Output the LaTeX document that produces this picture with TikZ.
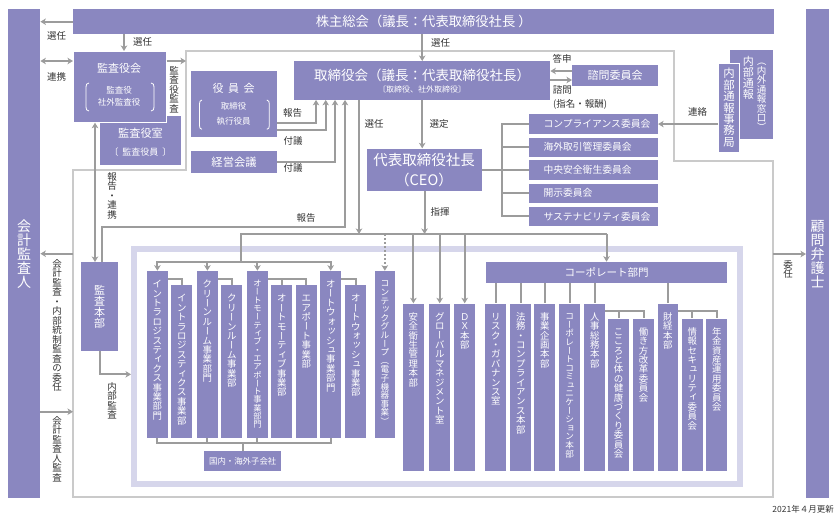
\documentclass[tikz,border=0pt]{standalone}
\usepackage{fontspec}
\usepackage{graphicx}
\setmainfont{Noto Sans CJK JP}
\usetikzlibrary{arrows.meta,calc}
\definecolor{boxc}{HTML}{8A87C0}
\definecolor{linec}{HTML}{9C9C9C}
\definecolor{framec}{HTML}{D6D6EB}
\definecolor{outlc}{HTML}{CACACA}
\definecolor{txtc}{HTML}{333333}
% vertical Japanese text: one character per em cell
\newcommand{\vput}[1]{\hbox to 1em{\hss\vrule height .88em depth .12em width 0pt\relax #1\hss}}
\newcommand{\vrot}[1]{\hbox to 1em{\hss\rotatebox[origin=c]{-90}{\vrule height .88em depth .12em width 0pt\relax #1}\hss}}
\newcommand{\vsm}[1]{\hbox to 1em{\vrule height .88em depth .12em width 0pt\relax\kern.13em\raisebox{.12em}{#1}\hss}}
\makeatletter
\newcommand{\vchr}[1]{\in@{#1}{ー（）}\ifin@\vrot{#1}\else\in@{#1}{ィッュォョャェァっゃゅょ}\ifin@\vsm{#1}\else\vput{#1}\fi\fi}
\makeatother
\def\vstackA#1{\ifx\relax#1\else\vchr{#1}\expandafter\vstackA\fi}
\newcommand{\vstack}[1]{\vbox{\offinterlineskip\vstackA#1\relax}}
\tikzset{
  pbox/.style={fill=boxc, inner sep=0pt, text=white, anchor=north west},
  lbl/.style={inner sep=0pt, text=txtc, font=\fontsize{9.5}{10}\selectfont},
  wtxt/.style={inner sep=0pt, text=white},
  vtxt/.style={inner sep=0pt, anchor=north, text=white, font=\fontsize{9.4}{10}\selectfont},
  vlbl/.style={inner sep=0pt, anchor=north, text=txtc, font=\fontsize{9.5}{10}\selectfont},
  ln/.style={draw=linec, line width=2pt},
  arr/.style={ln, -{Stealth[length=5.5pt,width=6.5pt,inset=1.5pt]}},
  darr/.style={ln, {Stealth[length=5.5pt,width=6.5pt,inset=1.5pt]}-{Stealth[length=5.5pt,width=6.5pt,inset=1.5pt]}},
  brk/.style={draw=white, line width=0.8pt},
}
\newcommand{\bx}[7][]{\node[pbox,minimum width={(#5-#3)*1pt},minimum height={(#6-#4)*1pt},#1] (#2) at (#3,#4) {#7};}
\newcommand{\vb}[3][]{\node[vtxt,#1] (#2t) at ($(#2.north)+(0,8.5)$) {\vstack{#3}};}
\newcommand{\lb}[5][]{\node[lbl,#1] (#2) at (#3,#4) {#5};}
\begin{document}
\begin{tikzpicture}[x=1pt,y=-1pt]
\useasboundingbox (0,0) rectangle (835,515);
% outline and frame
\draw[outlc, line width=1.2pt] (186,51) -- (674,51) -- (674,161) -- (773,161) -- (773,497) -- (73,497) -- (73,170) -- (186,170) -- cycle;
\draw[framec, line width=6pt] (134,249) rectangle (740,484);

% main boxes
\bx{aud}{8}{9}{40}{498}{}
\bx{komon}{806}{9}{829}{498}{}
\bx[font=\fontsize{13.3}{14}\selectfont]{sh}{73}{9}{774}{34}{株主総会（議長：代表取締役社長 ）}
\bx{kshitsu}{100}{116}{181}{164.5}{}
\bx[draw=white,line width=1pt]{kansa}{73}{51}{165.7}{121.7}{}
\bx{yakuin}{191}{71}{276.7}{136.7}{}
\bx[font=\fontsize{11.3}{12}\selectfont]{keiei}{191}{151}{276.7}{173}{経営会議}
\bx{bod}{294}{61}{550}{99.5}{}
\bx[font=\fontsize{11}{12}\selectfont]{shimon}{572}{65}{658}{85.3}{諮問委員会}
\bx{ceo}{366.7}{148.3}{482}{190.7}{}
\bx{k1}{529}{114}{657.7}{133.7}{}
\bx{k2}{529}{137.3}{657.7}{156.7}{}
\bx{k3}{529}{160}{657.7}{180}{}
\bx{k4}{529}{183.3}{657.7}{202.7}{}
\bx{k5}{529}{206.7}{657.7}{225.7}{}
\bx{jbox}{730}{50}{772.7}{138.3}{}
\bx[draw=white,line width=1pt]{jim}{718}{62.7}{739}{151.7}{}
\bx{honbu}{81}{262}{118}{351}{}
\bx[font=\fontsize{10.5}{11}\selectfont]{corp}{485.7}{261.7}{727}{282.7}{コーポレート部門}
\bx[font=\fontsize{8.4}{9}\selectfont]{kok}{204}{451}{281}{470.7}{国内・海外子会社}

% business boxes
\bx{b1}{146.7}{270.7}{167.7}{437.7}{}
\bx{b2}{171}{285}{192}{437.7}{}
\bx{b3}{196.7}{270.7}{217.7}{437.7}{}
\bx{b4}{221}{285}{242}{437.7}{}
\bx{b5}{246.7}{270.7}{267.7}{437.7}{}
\bx{b6}{271}{285}{292}{437.7}{}
\bx{b7}{295.7}{285}{316.7}{437.7}{}
\bx{b8}{320}{270.7}{341}{437.7}{}
\bx{b9}{345}{285}{366}{437.7}{}
\bx{b10}{374.3}{270.7}{395}{437.7}{}
\bx{b11}{402.7}{303.3}{423.7}{470.7}{}
\bx{b12}{429}{303.3}{450}{470.7}{}
\bx{b13}{454}{303.3}{475}{470.7}{}
\bx{c1}{485}{303.3}{506}{470.7}{}
\bx{c2}{510}{303.3}{531}{470.7}{}
\bx{c3}{534}{303.3}{555}{470.7}{}
\bx{c4}{559}{303.3}{580}{470.7}{}
\bx{c5}{584}{303.3}{605}{470.7}{}
\bx{c6}{608}{318.3}{628.7}{470.7}{}
\bx{c7}{632.7}{318.3}{654}{470.7}{}
\bx{c8}{657.3}{303.3}{678}{470.7}{}
\bx{c9}{681.7}{318.3}{702.7}{470.7}{}
\bx{c10}{706}{318.3}{727}{470.7}{}

% texts in boxes
\node[wtxt,font=\fontsize{11}{12}\selectfont] (kansaT) at (119,68) {監査役会};
\node[wtxt,font=\fontsize{8.5}{9}\selectfont] (kansaT2) at (119,90) {監査役};
\node[wtxt,font=\fontsize{8.5}{9}\selectfont] (kansaT3) at (119,102.5) {社外監査役};
\draw[brk] (89,83) .. controls (86.5,83.5) and (86,84.5) .. (86,87) -- (86,107) .. controls (86,109.5) and (86.5,110.5) .. (89,111);
\draw[brk] (151,83) .. controls (153.5,83.5) and (154,84.5) .. (154,87) -- (154,107) .. controls (154,109.5) and (153.5,110.5) .. (151,111);
\node[wtxt,font=\fontsize{11.2}{12}\selectfont] (kshT) at (140.5,133.5) {監査役室};
\node[wtxt,font=\fontsize{9}{10}\selectfont] (kshT2) at (140.5,151.7) {〔\hspace{4pt}監査役員\hspace{4pt}〕};
\node[wtxt,font=\fontsize{11}{12}\selectfont] (yakT) at (233.5,88.3) {役\hspace{4.5pt}員\hspace{4.5pt}会};
\node[wtxt,font=\fontsize{8.5}{9}\selectfont] (yakT2) at (233.5,106) {取締役};
\node[wtxt,font=\fontsize{8.5}{9}\selectfont] (yakT3) at (233.5,121) {執行役員};
\draw[brk] (202,100) .. controls (200,100.5) and (199.5,101.5) .. (199.5,104) -- (199.5,125.5) .. controls (199.5,128) and (200,128.8) .. (202,129.3);
\draw[brk] (266.8,100) .. controls (268.8,100.5) and (269.3,101.5) .. (269.3,104) -- (269.3,125.5) .. controls (269.3,128) and (268.8,128.8) .. (266.8,129.3);
\node[wtxt,font=\fontsize{13.5}{14}\selectfont] (bodT) at (422,75) {取締役会（議長：代表取締役社長）};
\node[wtxt,font=\fontsize{8}{9}\selectfont] (bodT2) at (422,89.3) {〔取締役、社外取締役〕};
\node[wtxt,font=\fontsize{14.5}{15}\selectfont] (ceoT) at (424,160.5) {代表取締役社長};
\node[wtxt,font=\fontsize{14.5}{15}\selectfont] (ceoT2) at (424,179.5) {（CEO）};
\foreach \k/\t in {k1/コンプライアンス委員会,k2/海外取引管理委員会,k3/中央安全衛生委員会,k4/開示委員会,k5/サステナビリティ委員会}
  \node[wtxt,anchor=west,font=\fontsize{9.8}{10}\selectfont] (\k t) at ($(\k.west)+(14.3,0)$) {\t};

\node[vtxt,anchor=center,font=\fontsize{14}{15}\selectfont] (audT) at (aud.center) {\vstack{会計監査人}};
\node[vtxt,anchor=center,font=\fontsize{14}{15}\selectfont] (komT) at (komon.center) {\vstack{顧問弁護士}};
\node[vtxt,anchor=center,font=\fontsize{11}{12}\selectfont] (honbuT) at (honbu.center) {\vstack{監査本部}};
\node[vtxt,anchor=center,font=\fontsize{11.4}{12}\selectfont] (jimT) at (jim.center) {\vstack{内部通報事務局}};
\node[vtxt,font=\fontsize{11}{12}\selectfont] (jbT1) at (748.3,56) {\vstack{内部通報}};
\node[vtxt,font=\fontsize{9.5}{10}\selectfont] (jbT2) at (761.7,56) {\vstack{（内外通報窓口）}};

\vb{b1}{イントラロジスティクス事業部門}
\vb{b2}{イントラロジスティクス事業部}
\vb{b3}{クリーンルーム事業部門}
\vb{b4}{クリーンルーム事業部}
\vb[font=\fontsize{8.3}{9}\selectfont]{b5}{オートモーティブ・エアポート事業部門}
\vb{b6}{オートモーティブ事業部}
\vb{b7}{エアポート事業部}
\vb{b8}{オートウォッシュ事業部門}
\vb{b9}{オートウォッシュ事業部}
\vb[font=\fontsize{8.6}{9}\selectfont]{b10}{コンテックグループ（電子機器事業）}
\vb{b11}{安全衛生管理本部}
\vb{b12}{グローバルマネジメント室}
\vb{b13}{ＤＸ本部}
\vb{c1}{リスク・ガバナンス室}
\vb{c2}{法務・コンプライアンス本部}
\vb{c3}{事業企画本部}
\vb[font=\fontsize{8.6}{9}\selectfont]{c4}{コーポレートコミュニケーション本部}
\vb{c5}{人事総務本部}
\vb{c6}{こころと体の健康づくり委員会}
\vb{c7}{働き方改革委員会}
\vb{c8}{財経本部}
\vb{c9}{情報セキュリティ委員会}
\vb{c10}{年金資産運用委員会}

% labels
\lb{l1}{56.5}{36}{選任}
\lb{l2}{56.5}{76.7}{連携}
\lb{l3}{142.5}{42.3}{選任}
\lb{l4}{440.5}{42.7}{選任}
\lb{l5}{562}{59}{答申}
\lb{l6}{562.3}{90}{諮問}
\lb[anchor=west]{l7}{553}{104.3}{(指名・報酬)}
\lb{l8}{292.5}{113.3}{報告}
\lb{l9}{293}{140.7}{付議}
\lb{l10}{293}{168.3}{付議}
\lb{l11}{306}{218.3}{報告}
\lb{l12}{374}{124}{選任}
\lb{l13}{439}{124}{選定}
\lb{l14}{440}{211.7}{指揮}
\lb{l15}{697.5}{111.7}{連絡}
\node[vlbl] (v1) at (174,65.5) {\vstack{監査役監査}};
\node[vlbl] (v2) at (112,171.5) {\vstack{報告・連携}};
\node[vlbl] (v3) at (57,258.5) {\vstack{会計監査・内部統制監査の委任}};
\node[vlbl] (v4) at (57,415.5) {\vstack{会計監査人監査}};
\node[vlbl] (v5) at (112,381.5) {\vstack{内部監査}};
\node[vlbl] (v6) at (788,259.5) {\vstack{委任}};
\node[lbl,anchor=east,font=\fontsize{8.5}{9}\selectfont] (date) at (834,509) {2021年４月更新};

% connectors
\coordinate (x124) at (124,0);
\coordinate (c61) at (0,61);
\coordinate (olL) at (186,61);
\coordinate (x95) at (95,0);
\coordinate (x102) at (102,0);
\coordinate (rep) at (345,226.7);
\coordinate (y1) at (0,122.7);
\coordinate (y2) at (0,130);
\coordinate (a1) at (316,0);
\coordinate (a2) at (325.7,0);
\coordinate (a3) at (335,0);
\coordinate (busL) at (241,234);
\coordinate (g) at (241,262);
\coordinate (x359) at (359,0);
\coordinate (bb) at (0,443.3);
\coordinate (kv) at (502.3,0);
\coordinate (ir) at (773,254);
\coordinate (o1) at (73,253.7);
\coordinate (o2) at (73,411.7);
\coordinate (fl) at (131,374.3);

\draw[arr] (sh.west) -- (sh.west -| aud.east);
\draw[arr] (x124 |- sh.south) -- (x124 |- kansa.north);
\draw[darr] (aud.east |- c61) -- (kansa.west |- c61);
\draw[arr] (kansa.east |- olL) -- (olL);
\draw[darr] (x95 |- kansa.south) -- (x95 |- honbu.north);
\draw[arr] (x102 |- honbu.north) |- (rep) -- (rep |- bod.south);
\draw[arr] (yakuin.east |- y1) -| (a1 |- bod.south);
\draw[arr] (yakuin.east |- y2) -| (a2 |- bod.south);
\draw[arr] (keiei.east) -| (a3 |- bod.south);
\draw[arr] (bod.north |- sh.south) -- (bod.north);
\draw[arr] (bod.south) -- (bod.south |- ceo.north);
\draw[arr] (x359 |- bod.south) -- (x359 |- busL);
\draw[arr] (ceo.south) -- (ceo.south |- busL);
\draw[ln] (corp.north |- busL) -- (busL) -- (g);
\foreach \b in {b1,b3,b5,b8} \draw[arr] (g) -| (\b.north);
\draw[arr, dash pattern=on 2pt off 2pt] (b10.north |- busL) -- (b10.north);
\foreach \b in {b11,b12,b13,corp} \draw[arr] (\b.north |- busL) -- (\b.north);

\coordinate (h1) at ($(b1.north east)+(0,8.3)$);
\coordinate (h3) at ($(b3.north east)+(0,8.3)$);
\coordinate (h5) at ($(b5.north east)+(0,8.3)$);
\coordinate (h8) at ($(b8.north east)+(0,8.3)$);
\draw[ln] (h1) -| (b2.north);
\draw[ln] (h3) -| (b4.north);
\draw[ln] (h5) -| (b7.north);
\draw[ln] (b6.north) -- (b6.north |- h5);
\draw[ln] (h8) -| (b9.north);

\draw[ln] (b1.south) -- (b1.south |- bb) -- (b8.south |- bb) -- (b8.south);
\draw[ln] (b3.south) -- (b3.south |- bb);
\draw[ln] (b5.south) -- (b5.south |- bb);
\draw[ln] (kok.north) -- (kok.north |- bb);

\foreach \c in {c1,c2,c3,c4,c5,c8} \draw[ln] (\c.north |- corp.south) -- (\c.north);
\coordinate (h5c) at ($(c5.north east)+(0,7.5)$);
\coordinate (h8c) at ($(c8.north east)+(0,7.5)$);
\draw[ln] (h5c) -| (c7.north);
\draw[ln] (c6.north) -- (c6.north |- h5c);
\draw[ln] (h8c) -| (c10.north);
\draw[ln] (c9.north) -- (c9.north |- h8c);

\draw[ln] (ceo.east) -- (kv |- ceo.east);
\draw[ln] (k1.west) -| (kv |- k5.west) -- (k5.west);
\foreach \k in {k2,k3,k4} \draw[ln] (\k.west) -- (kv |- \k.west);

\draw[arr] (jim.west |- k1.east) -- (k1.east);
\coordinate (ta) at ($(shimon.north west)+(0,6)$);
\coordinate (tb) at ($(shimon.north west)+(0,15)$);
\draw[arr] (ta) -- (ta -| bod.east);
\draw[arr] (tb -| bod.east) -- (tb);
\draw[arr] (ir) -- (ir -| komon.west);
\draw[arr] (o1) -- (o1 -| aud.east);
\draw[arr] (o2 -| aud.east) -- (o2);
\draw[arr] (honbu.south) |- (fl);
\end{tikzpicture}
\end{document}
